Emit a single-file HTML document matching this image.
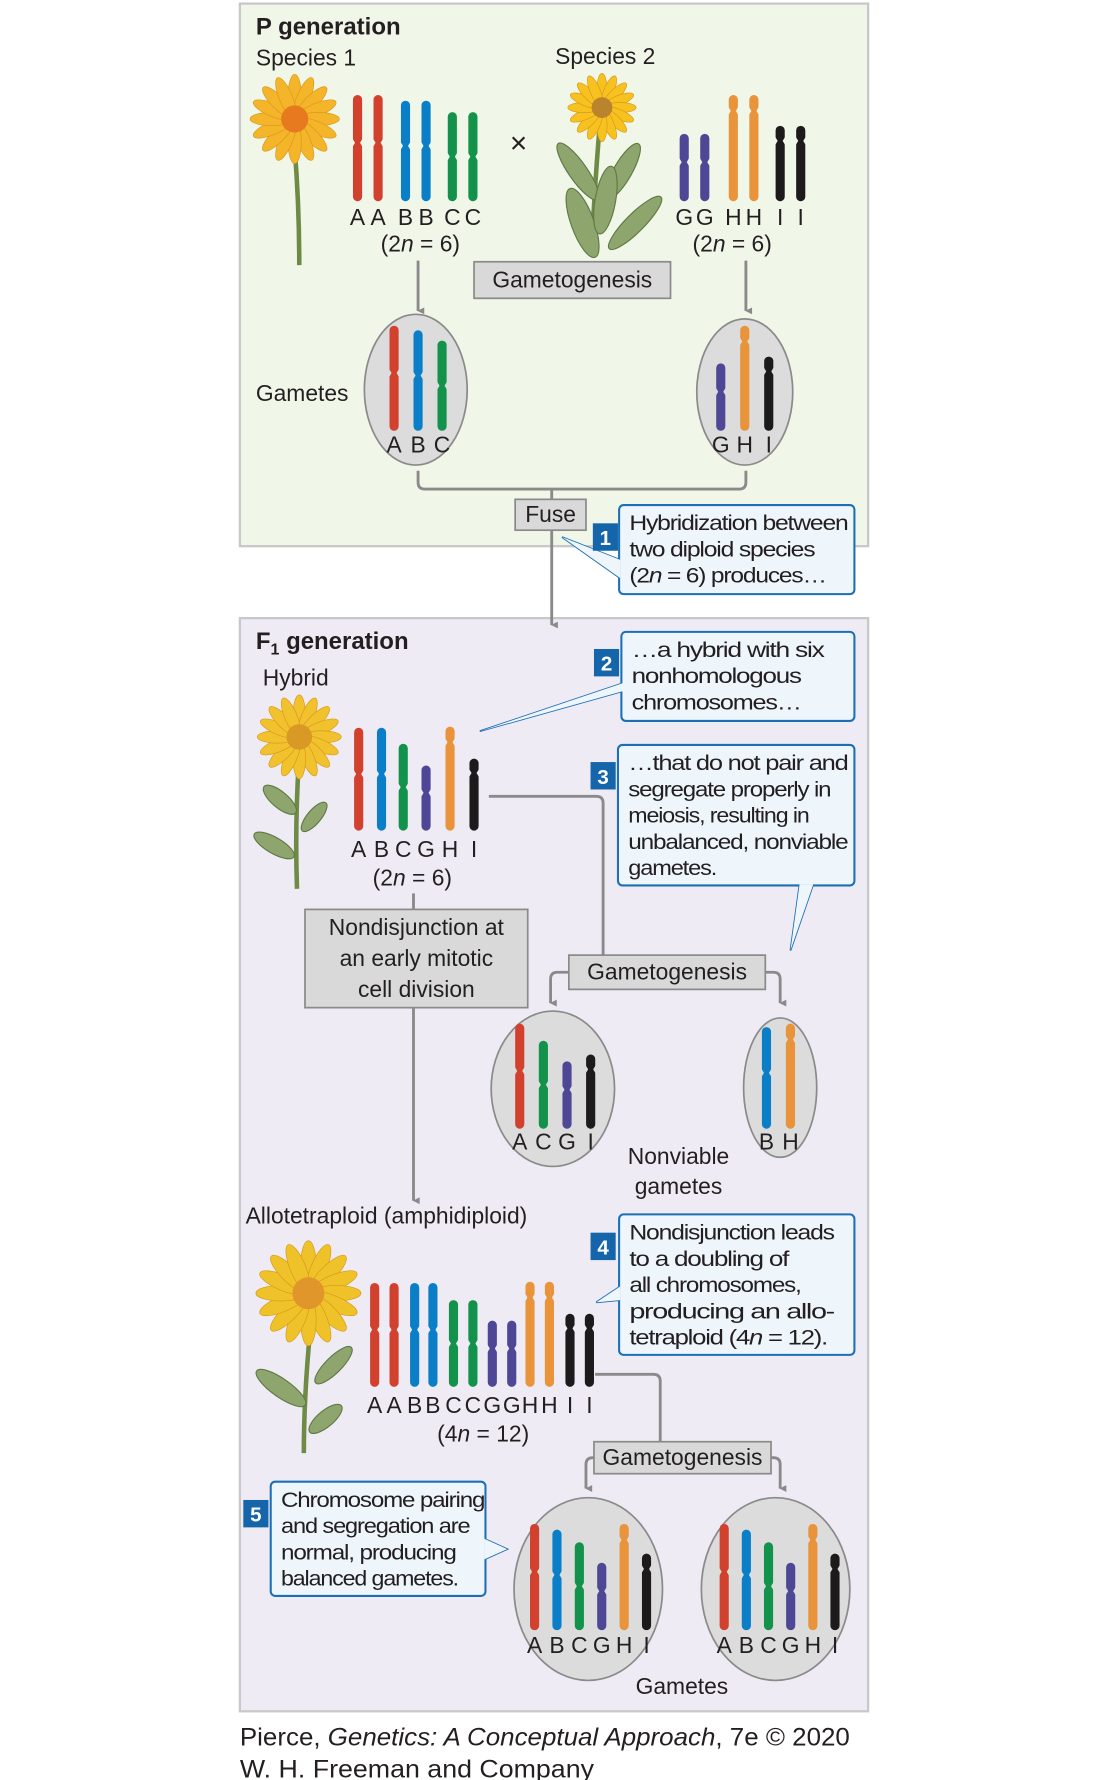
<!DOCTYPE html>
<html><head><meta charset="utf-8">
<style>
html,body{margin:0;padding:0;background:#fff;}
svg{display:block;}
text{font-family:"Liberation Sans",sans-serif;fill:#231f20;}
.lbl{font-size:20px;}
.co{font-size:19px;letter-spacing:-0.9px;}
</style></head>
<body>
<svg id="fig" width="1100" height="1780" viewBox="0 0 963 1558" xmlns="http://www.w3.org/2000/svg">
<defs>
<marker id="arr" viewBox="0 0 10 10" refX="5" refY="9" markerWidth="6" markerHeight="8" orient="auto-start-reverse" markerUnits="userSpaceOnUse">
<path d="M0,0 L5,10 L10,0 Z" fill="#8a8a8a"/></marker>
</defs>
<rect x="210" y="3" width="550" height="475" fill="#f0f6e8" stroke="#c8c8c8" stroke-width="2"/>
<rect x="210" y="541" width="550" height="957" fill="#eeebf4" stroke="#c8c8c8" stroke-width="2"/>

<g id="flowers"></g>
<text x="224" y="30" font-size="21" font-weight="bold">P generation</text>
<text class="lbl" x="224" y="57">Species 1</text>
<text class="lbl" x="486" y="56">Species 2</text>
<text x="454" y="134" font-size="26" text-anchor="middle">×</text>
<text class="lbl" x="368" y="220" text-anchor="middle">(2<tspan font-style="italic">n</tspan> = 6)</text>
<text class="lbl" x="641" y="220" text-anchor="middle">(2<tspan font-style="italic">n</tspan> = 6)</text>
<text class="lbl" x="224" y="351">Gametes</text>

<g id="lines" stroke="#8a8a8a" stroke-width="2.5" fill="none"></g>
<g id="ovals"></g>
<g id="chroms"></g>
<g id="boxes"></g>
<g id="callouts"></g>

<text x="224" y="568" font-size="21" font-weight="bold">F<tspan font-size="14" dy="5">1</tspan><tspan dy="-5"> generation</tspan></text>
<text class="lbl" x="230" y="600">Hybrid</text>
<text class="lbl" x="361" y="775" text-anchor="middle">(2<tspan font-style="italic">n</tspan> = 6)</text>
<text class="lbl" x="594" y="1019" text-anchor="middle">Nonviable</text>
<text class="lbl" x="594" y="1045" text-anchor="middle">gametes</text>
<text class="lbl" x="215" y="1071">Allotetraploid (amphidiploid)</text>
<text class="lbl" x="423" y="1262" text-anchor="middle">(4<tspan font-style="italic">n</tspan> = 12)</text>
<text class="lbl" x="597" y="1483" text-anchor="middle">Gametes</text>

<text x="210" y="1528" font-size="22" textLength="534" lengthAdjust="spacingAndGlyphs">Pierce, <tspan font-style="italic">Genetics: A Conceptual Approach</tspan>, 7e © 2020</text>
<text x="210" y="1556" font-size="22" textLength="310" lengthAdjust="spacingAndGlyphs">W. H. Freeman and Company</text>
</svg>
<script>
const NS='http://www.w3.org/2000/svg';
const chromLetters=['A','B','C','G','H','I'];
const chromColors=['#d2412d','#0b7ec8','#13924b','#4e4795','#e9933b','#1c1a1b'];
const centromere=[0.45,0.45,0.5,0.42,0.15,0.2];
const sp1Letters=['A','A','B','B','C','C'];
const sp1Len=[93,93,88,88,78,78];
const sp2Letters=['G','G','H','H','I','I'];
const sp2Len=[59,59,93,93,66,66];
const gamL=['A','B','C'];const gamLLen=[92,88,79];
const gamR=['G','H','I'];const gamRLen=[59,92,65];
const hybL=['A','B','C','G','H','I'];const hybLen=[90,90,76,57,91,63];
const badL=['A','C','G','I'];const badLen=[92,77,59,65];
const bhL=['B','H'];const bhLen=[89,92];
const tetL=['A','A','B','B','C','C','G','G','H','H','I','I'];
const tetLen=[91,91,91,91,76,76,58,58,92,92,64,64];
const balL=['A','B','C','G','H','I'];const balLen=[93,88,77,59,93,67];

function mk(tag,attrs,parent){const e=document.createElementNS(NS,tag);for(const k in attrs)e.setAttribute(k,attrs[k]);if(parent)parent.appendChild(e);return e;}
const gC=document.getElementById('chroms');
function chromSet(name,letters,lens,x0,dx,bottom,labelY,bg,xs){
  letters.forEach((L,i)=>{
    const ci=chromLetters.indexOf(L);
    const x=xs?xs[i]:x0+i*dx, h=lens[i], top=bottom-h;
    const g=mk('g',{},gC);
    
    
    mk('rect',{x:x-4,y:top,width:8,height:h,rx:4,fill:chromColors[ci]},g);
    const cy=top+h*centromere[ci];
    mk('path',{d:`M${x-4.6},${cy-4} L${x-2.2},${cy} L${x-4.6},${cy+4} Z M${x+4.6},${cy-4} L${x+2.2},${cy} L${x+4.6},${cy+4} Z`,fill:bg},g);
    const t=mk('text',{x:x,y:labelY,'text-anchor':'middle','font-size':20},g);
    
    
    t.textContent=L;
  });
}
const PG='#f0f6e8',FG='#eeebf4',OG='#dcdcdc';
const gO=document.getElementById('ovals');
function oval(name,cx,cy,rx,ry){const e=mk('ellipse',{cx,cy,rx,ry,fill:OG,stroke:'#8a8a8a','stroke-width':1.5},gO);}
oval('gamete-species-1',364,341,45,66);
oval('gamete-species-2',652,343,42,64);
oval('nonviable-gamete-acgi',484,953,54,68);
oval('nonviable-gamete-bh',683,952,32,61);
oval('balanced-gamete-1',515,1391,65,80);
oval('balanced-gamete-2',679,1391,65,80);

chromSet('species-1',sp1Letters,sp1Len,0,0,176,197,PG,[313,331,355,373,396,414]);
chromSet('species-2',sp2Letters,sp2Len,0,0,176,197,PG,[599,617,642,660,683,701]);
chromSet('gamete-1',gamL,gamLLen,345,21,377,396,OG);
chromSet('gamete-2',gamR,gamRLen,631,21,377,396,OG);
chromSet('hybrid',hybL,hybLen,0,0,727,750,FG,[314,334,353,373,394,415]);
chromSet('nonviable-acgi',badL,badLen,455,20.7,988,1006,OG);
chromSet('nonviable-bh',bhL,bhLen,671,21,988,1006,OG);
chromSet('tetraploid',tetL,tetLen,0,0,1214,1237,FG,[328,345,363,379,397,414,431,448,464,481,499,516]);
chromSet('balanced-1',balL,balLen,468,19.6,1427,1447,OG);
chromSet('balanced-2',balL,balLen,634,19.4,1427,1447,OG);

const gL=document.getElementById('lines');
function ln(name,d,arrow){const e=mk('path',{d},gL);if(arrow)e.setAttribute('marker-end','url(#arr)');}
ln('arrow-species-1','M366,228 L366,272',1);
ln('arrow-species-2','M653,228 L653,272',1);
ln('fuse-bracket','M366,412 L366,422 Q366,428 372,428 L647,428 Q653,428 653,422 L653,412 M483,428 L483,437');
ln('arrow-to-f1','M483,464 L483,547',1);
ln('hybrid-to-gametogenesis','M428,697 L522,697 Q528,697 528,703 L528,836');
ln('gametogenesis-left','M498,851 L488,851 Q482,851 482,857 L482,878',1);
ln('gametogenesis-right','M670,851 L677,851 Q683,851 683,857 L683,878',1);
ln('hybrid-to-nondisjunction','M362,782 L362,796');
ln('nondisjunction-to-tetraploid','M362,882 L362,1051',1);
ln('tetraploid-to-gametogenesis','M521,1203 L572,1203 Q578,1203 578,1209 L578,1262');
ln('gametogenesis-2-left','M520,1276 L519,1276 Q513,1276 513,1282 L513,1303',1);
ln('gametogenesis-2-right','M675,1276 L677,1276 Q683,1276 683,1282 L683,1303',1);

const gB=document.getElementById('boxes');
function box(name,x,y,w,h,lines,size){const g=mk('g',{},gB);
  mk('rect',{x,y,width:w,height:h,fill:'#d9d9d9',stroke:'#8a8a8a','stroke-width':1.5},g);
  lines.forEach((s,i)=>{const t=mk('text',{x:x+w/2,y:y+(h-lines.length*27)/2+20+i*27,'text-anchor':'middle','font-size':size||20},g);t.textContent=s;});}
box('gametogenesis-box-p',415,229,172,32,['Gametogenesis']);
box('fuse-box',451,437,62,27,['Fuse']);
box('gametogenesis-box-f1',498,836,172,30,['Gametogenesis']);
box('nondisjunction-box',267,796,195,86,['Nondisjunction at','an early mitotic','cell division']);
box('gametogenesis-box-tetra',520,1262,155,28,['Gametogenesis']);

const gK=document.getElementById('callouts');
function callout(name,num,x,y,w,h,nx,ny,ptr,lines,lens){
  const g=mk('g',{},gK);
  mk('path',{d:ptr,fill:'#eef5fb',stroke:'#1a6fb5','stroke-width':1.5},g);
  mk('rect',{x,y,width:w,height:h,rx:4,fill:'#eef5fb',stroke:'#1a6fb5','stroke-width':1.8},g);
  mk('path',{d:ptr.replace(/Z$/,''),fill:'#eef5fb',stroke:'none'},g);
  mk('rect',{x:nx,y:ny,width:22,height:24,fill:'#1565ab'},g);
  const n=mk('text',{x:nx+11,y:ny+19,'text-anchor':'middle','font-size':18,'font-weight':'bold',style:'fill:#fff'},g);n.textContent=num;
  lines.forEach((s,i)=>{const t=mk('text',{x:x+9,y:y+22+i*23,class:'co',textLength:lens[i],lengthAdjust:'spacingAndGlyphs'},g);t.innerHTML=s;});
}
callout('callout-1','1',542,442,206,78,519,458,'M543,490 L492,470 L543,506 Z',
 ['Hybridization between','two diploid species','(2<tspan font-style="italic">n</tspan> = 6) produces…'],[191,162,172]);
callout('callout-2','2',544,553,204,78,520,568,'M545,598 L420,640 L545,605 Z',
 ['…a hybrid with six','nonhomologous','chromosomes…'],[168,148,148]);
callout('callout-3','3',541,652,207,123,517,667,'M700,774 L692,832 L712,774 Z',
 ['…that do not pair and','segregate properly in','meiosis, resulting in','unbalanced, nonviable','gametes.'],[192,177,158,192,77]);
callout('callout-4','4',542,1063,206,123,517,1079,'M543,1126 L522,1140 L543,1138 Z',
 ['Nondisjunction leads','to a doubling of','all chromosomes,','producing an allo-','tetraploid (4<tspan font-style="italic">n</tspan> = 12).'],[179,139,150,179,173]);
callout('callout-5','5',237,1297,188,100,213,1313,'M424,1347 L444,1356 L424,1365 Z',
 ['Chromosome pairing','and segregation are','normal, producing','balanced gametes.'],[178,165,153,155]);

const gF=document.getElementById('flowers');
function flower(name,cx,cy,r,petal,center,stem){
  const g=mk('g',{},gF);
  mk('path',{d:stem,stroke:'#6f8a45','stroke-width':4,fill:'none'},g);
  for(let i=0;i<16;i++){const a=i*22.5;mk('ellipse',{cx:cx,cy:cy-r*0.6,rx:r*0.17,ry:r*0.55,fill:petal,stroke:'#d79a1a','stroke-width':0.6,transform:`rotate(${a} ${cx} ${cy})`},g);}
  mk('circle',{cx,cy,r:r*0.35,fill:center},g);
  return g;
}
function leaf(g,x,y,rx,ry,rot){mk('ellipse',{cx:x,cy:y,rx,ry,fill:'#8ea56e',stroke:'#5f7a45','stroke-width':1,transform:`rotate(${rot} ${x} ${y})`},g);}
let f=flower('species-1-flower',258,104,34,'#f5b52a','#e77a1e','M258,130 Q262,180 262,232');
f=flower('species-2-flower',527,94,26,'#f7c21f','#b9842d','M525,110 Q520,170 518,222');
leaf(f,506,150,8,30,-35);leaf(f,545,150,8,28,30);leaf(f,510,195,10,32,-20);leaf(f,556,195,8,32,45);leaf(f,530,175,9,30,10);
f=flower('hybrid-flower',262,645,32,'#f2c22e','#d89a25','M262,660 Q258,720 260,778');
leaf(f,245,700,7,18,-50);leaf(f,240,740,7,20,-60);leaf(f,275,715,6,16,40);
f=flower('tetraploid-flower',270,1132,40,'#f0c22a','#e0962a','M272,1160 Q266,1220 266,1272');
leaf(f,246,1215,8,26,-55);leaf(f,292,1195,7,22,45);leaf(f,285,1242,7,18,50);
</script>
</body></html>
